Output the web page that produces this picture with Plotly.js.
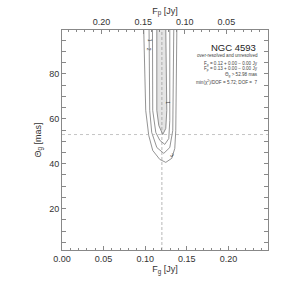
<!DOCTYPE html>
<html><head><meta charset="utf-8">
<script src="https://cdn.plot.ly/plotly-3.0.1.min.js"></script>
<style>html,body{margin:0;padding:0;background:#fff;}#p{width:299px;height:294px;}</style>
</head><body><div id="p"></div>
<script>
// Axis ranges / ticks
const fgRange = [0, 0.2475];
const fTotal = 0.2475;           // F_p = total - F_g (top axis)
const thetaRange = [1.6, 99.5];
const fgTicks = [0.00, 0.05, 0.10, 0.15, 0.20];
const fpTicks = [0.05, 0.10, 0.15, 0.20];
const thetaTicks = [20, 40, 60, 80];

// Best fit / limits
const bestFg = 0.12;
const thetaLimit = 52.98;

// chi^2 contours (F_g [Jy], Theta_g [mas])
const c1x = [0.1139, 0.1139, 0.1163, 0.1211, 0.1247, 0.1259, 0.1247];
const c1y = [100, 63.7, 57.0, 53.0, 55.7, 63.7, 100];
const c2x = [0.1087, 0.1090, 0.1127, 0.1175, 0.1235, 0.1283, 0.1295, 0.1295];
const c2y = [100, 63.7, 53.9, 50.4, 48.6, 51.2, 59.2, 100];
const c3x = [0.1046, 0.1054, 0.1078, 0.1139, 0.1223, 0.1295, 0.1331, 0.1343];
const c3y = [100, 63.7, 53.9, 47.2, 44.6, 47.2, 54.8, 100];
const c4x = [0.0982, 0.1006, 0.1042, 0.1090, 0.1175, 0.1247, 0.1319, 0.1355, 0.1367, 0.1380];
const c4y = [100, 63.7, 52.6, 45.9, 41.9, 40.6, 42.4, 46.8, 54.8, 100];

const lineCol = '#666';
const traces = [
  {x: c1x, y: c1y, mode: 'lines', fill: 'toself', fillcolor: '#e4e4e4', line: {color: lineCol, width: 0.7}},
  {x: c2x, y: c2y, mode: 'lines', line: {color: lineCol, width: 0.7}},
  {x: c3x, y: c3y, mode: 'lines', line: {color: lineCol, width: 0.7}},
  {x: c4x, y: c4y, mode: 'lines', line: {color: lineCol, width: 0.7}},
  {x: [bestFg, bestFg], y: thetaRange, mode: 'lines', line: {color: '#888', width: 0.6, dash: '3px,2px'}},
  {x: fgRange, y: [thetaLimit, thetaLimit], mode: 'lines', line: {color: '#aaa', width: 0.7, dash: 'dot'}},
  {x: [fTotal - bestFg], y: [thetaLimit], xaxis: 'x2', mode: 'markers', marker: {opacity: 0}, hoverinfo: 'skip'}
];

const axisCommon = {
  showgrid: false, zeroline: false, showline: true, linecolor: '#888', linewidth: 1,
  ticks: 'inside', ticklen: 4, tickcolor: '#888', tickfont: {size: 9, color: '#333'}
};

const small = {size: 4.6, color: '#444'};
const layout = {
  width: 299, height: 294, showlegend: false,
  paper_bgcolor: '#fff', plot_bgcolor: '#fff',
  font: {family: 'Liberation Sans, Arial, sans-serif', size: 9, color: '#333'},
  margin: {l: 62, r: 31, t: 30, b: 44},
  xaxis: Object.assign({}, axisCommon, {
    range: fgRange, tickvals: fgTicks, tickformat: '.2f',
    minor: {dtick: 0.01, tick0: 0, ticks: 'inside', ticklen: 2, tickcolor: '#888'},
    title: {text: 'F<sub>g</sub> [Jy]', font: {size: 9}, standoff: 2}
  }),
  xaxis2: Object.assign({}, axisCommon, {
    overlaying: 'x', side: 'top', range: [fTotal, 0], tickvals: fpTicks, tickformat: '.2f',
    minor: {dtick: 0.01, tick0: 0, ticks: 'inside', ticklen: 2, tickcolor: '#888'},
    title: {text: 'F<sub>p</sub> [Jy]', font: {size: 9}, standoff: 0}
  }),
  yaxis: Object.assign({}, axisCommon, {
    range: thetaRange, tickvals: thetaTicks, mirror: 'allticks',
    minor: {dtick: 5, tick0: 0, ticks: 'inside', ticklen: 2, tickcolor: '#888'},
    title: {text: 'Θ<sub>g</sub> [mas]', font: {size: 9}, standoff: 6}
  }),
  annotations: [
    {xref: 'paper', yref: 'paper', x: 0.95, y: 0.92, xanchor: 'right', yanchor: 'middle', showarrow: false, text: 'NGC 4593', font: {size: 9.5, color: '#222'}},
    {xref: 'paper', yref: 'paper', x: 0.96, y: 0.884, xanchor: 'right', yanchor: 'middle', showarrow: false, text: 'over-resolved and unresolved', font: small},
    {xref: 'paper', yref: 'paper', x: 0.96, y: 0.846, xanchor: 'right', yanchor: 'middle', showarrow: false, text: 'F<sub>g</sub> = 0.12 + 0.00 − 0.00 Jy', font: small},
    {xref: 'paper', yref: 'paper', x: 0.96, y: 0.821, xanchor: 'right', yanchor: 'middle', showarrow: false, text: 'F<sub>p</sub> = 0.13 + 0.00 − 0.00 Jy', font: small},
    {xref: 'paper', yref: 'paper', x: 0.96, y: 0.794, xanchor: 'right', yanchor: 'middle', showarrow: false, text: 'Θ<sub>g</sub> > 52.98 mas', font: small},
    {xref: 'paper', yref: 'paper', x: 0.96, y: 0.763, xanchor: 'right', yanchor: 'middle', showarrow: false, text: 'min(χ<sup>2</sup>)/DOF = 5.72; DOF =  7', font: small},
    {x: 0.1050, y: 95, showarrow: false, text: '1', textangle: 90, font: {size: 5, color: '#444'}},
    {x: 0.1050, y: 91, showarrow: false, text: '2', textangle: 90, font: {size: 5, color: '#444'}},
    {x: 0.1270, y: 67, showarrow: false, text: '1', textangle: 90, font: {size: 5, color: '#444'}},
    {x: 0.1325, y: 44, showarrow: false, text: '3', textangle: 45, font: {size: 5, color: '#444'}}
  ]
};

Plotly.newPlot('p', traces, layout, {staticPlot: true, displayModeBar: false});
</script>
</body></html>
